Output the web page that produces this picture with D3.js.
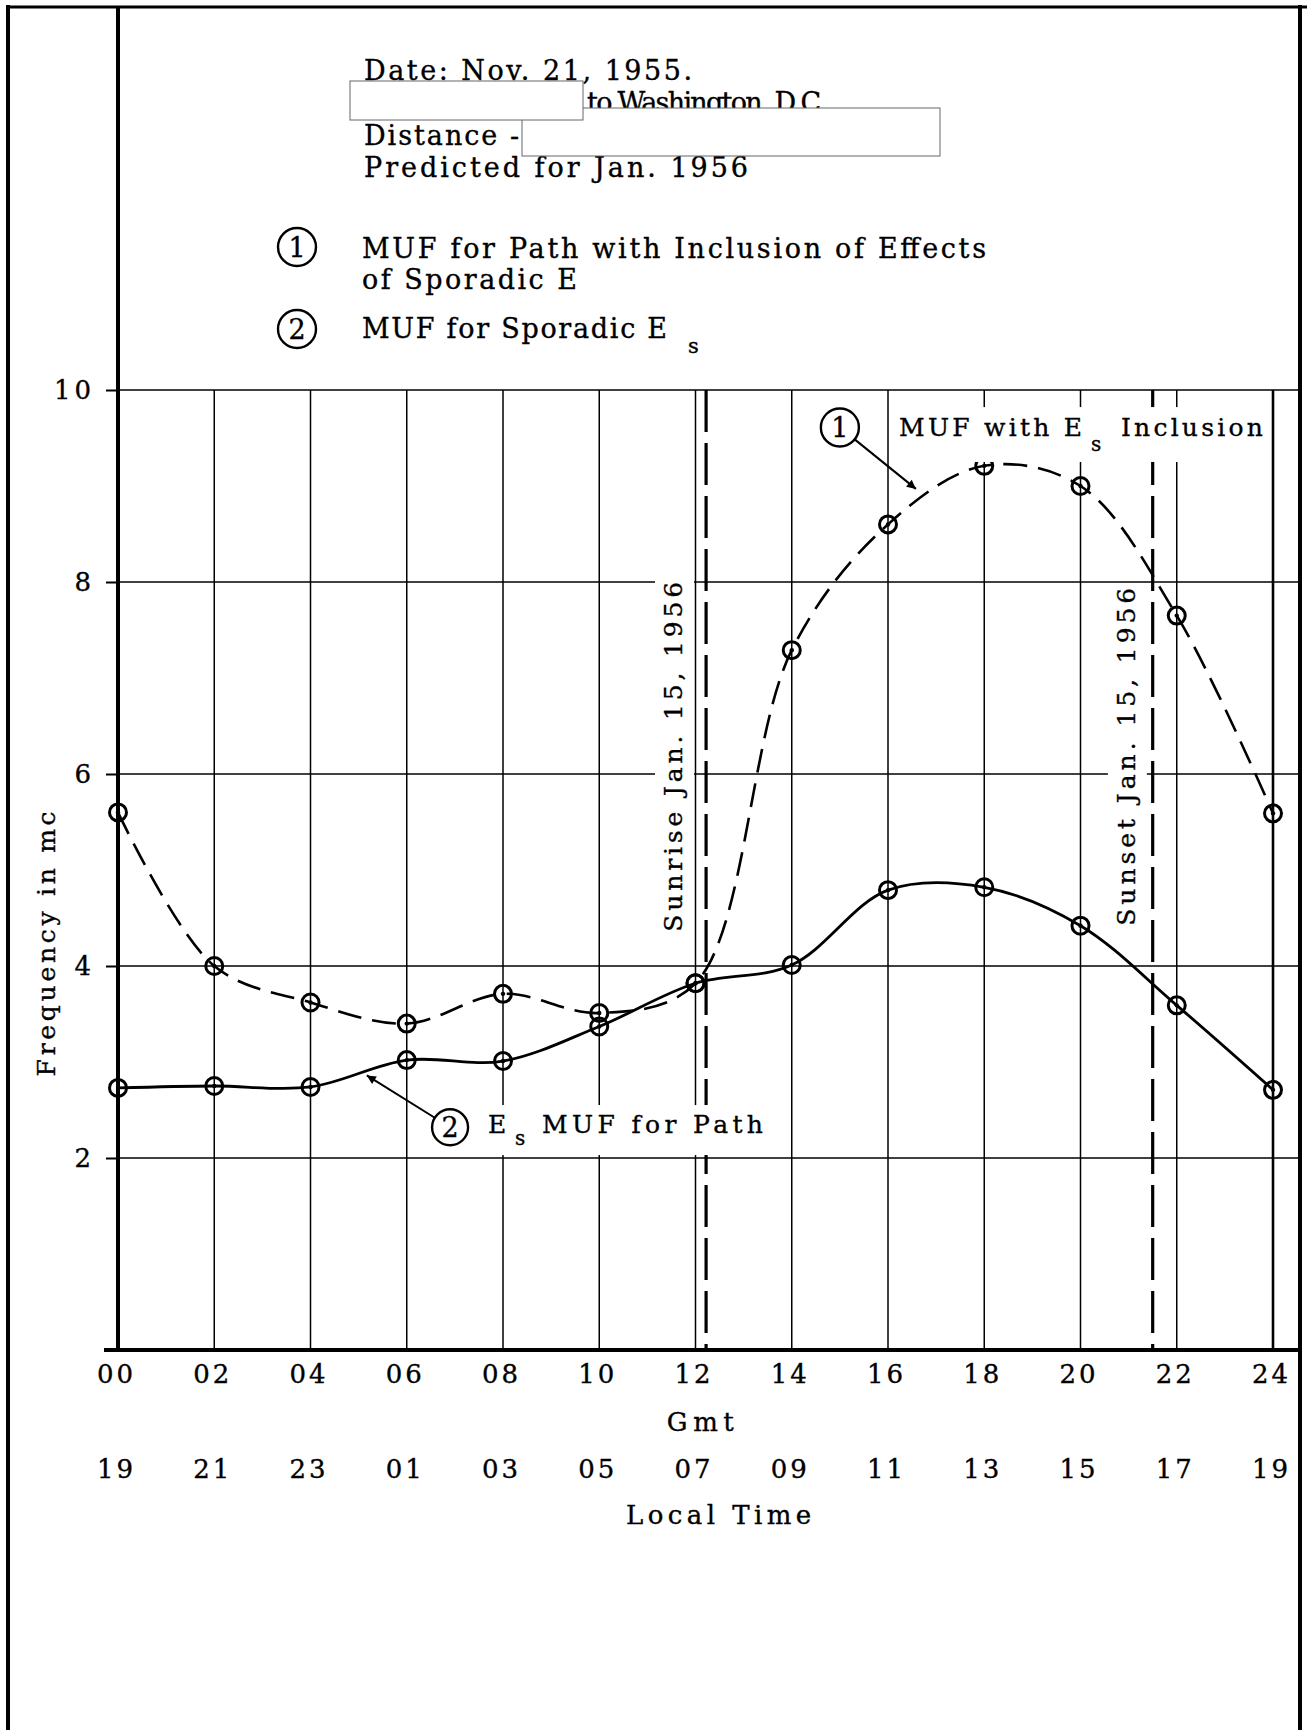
<!DOCTYPE html>
<html>
<head>
<meta charset="utf-8">
<script src="https://cdn.jsdelivr.net/npm/d3@7"></script>
<style>
  body { margin: 0; background: #fff; }
  text { font-family: "DejaVu Serif", serif; fill: #000; stroke: #000; stroke-width: 0.35px; }
</style>
</head>
<body>
<div id="chart"></div>
<script>
// Section 1: data
// Gmt hours and the two axis label rows
var gmtHours = [0, 2, 4, 6, 8, 10, 12, 14, 16, 18, 20, 22, 24];
var gmtLabels = ["00", "02", "04", "06", "08", "10", "12", "14", "16", "18", "20", "22", "24"];
var localLabels = ["19", "21", "23", "01", "03", "05", "07", "09", "11", "13", "15", "17", "19"];
// frequency ticks (mc)
var freqTicks = [2, 4, 6, 8, 10];
// curve 1: MUF with Es inclusion (dashed)
var mufInclusion = [5.6, 4.0, 3.62, 3.4, 3.71, 3.51, 3.82, 7.29, 8.6, 9.21, 9.0, 7.65, 5.59];
// curve 2: Es MUF for path (solid)
var mufSporadic = [2.73, 2.75, 2.74, 3.02, 3.01, 3.37, 3.82, 4.01, 4.79, 4.82, 4.42, 3.59, 2.71];
// sunrise / sunset, Jan. 15, 1956 (Gmt hours)
var sunriseHour = 12.22;
var sunsetHour = 21.5;

// Section 2: page setup
var svgWidth = 1307;
var svgHeight = 1730;
var plot = { left: 118, right: 1273, top: 390, bottom: 1350 };
var frameRight = 1300;

var svg = d3.select("#chart").append("svg")
  .attr("width", svgWidth)
  .attr("height", svgHeight);

var defs = svg.append("defs");
defs.append("marker")
  .attr("id", "arrow")
  .attr("viewBox", "0 0 10 10")
  .attr("refX", 10)
  .attr("refY", 5)
  .attr("markerWidth", 18)
  .attr("markerHeight", 9)
  .attr("markerUnits", "userSpaceOnUse")
  .attr("orient", "auto")
  .append("path")
  .attr("d", "M0,0 L10,5 L0,10 Z")
  .attr("fill", "#000");

var xScale = d3.scaleLinear().domain([0, 24]).range([plot.left, plot.right]);
var yScale = d3.scaleLinear().domain([0, 10]).range([plot.bottom, plot.top]);

// page frame
var frame = svg.append("g").attr("stroke", "#000").attr("fill", "none");
frame.append("line").attr("x1", 6).attr("x2", svgWidth).attr("y1", 7).attr("y2", 7).attr("stroke-width", 3);
frame.append("line").attr("x1", 8).attr("x2", 8).attr("y1", 5).attr("y2", svgHeight).attr("stroke-width", 4);
frame.append("line").attr("x1", frameRight).attr("x2", frameRight).attr("y1", 5).attr("y2", svgHeight).attr("stroke-width", 4);
// the y axis line runs up to the top of the page
frame.append("line").attr("x1", plot.left).attr("x2", plot.left).attr("y1", 6).attr("y2", plot.bottom).attr("stroke-width", 4);

// Section 3: grid
var grid = svg.append("g").attr("stroke", "#000");
grid.selectAll(".hgrid")
  .data(freqTicks)
  .enter()
  .append("line")
  .attr("x1", plot.left)
  .attr("x2", frameRight)
  .attr("y1", d => yScale(d))
  .attr("y2", d => yScale(d))
  .attr("stroke-width", 1.5);
grid.selectAll(".vgrid")
  .data(gmtHours.slice(1))
  .enter()
  .append("line")
  .attr("x1", d => xScale(d))
  .attr("x2", d => xScale(d))
  .attr("y1", yScale(10))
  .attr("y2", yScale(0))
  .attr("stroke-width", d => d === 24 ? 2.6 : 1.5);

// sunrise / sunset markers
svg.selectAll(".sun")
  .data([sunriseHour, sunsetHour])
  .enter()
  .append("line")
  .attr("x1", d => xScale(d))
  .attr("x2", d => xScale(d))
  .attr("y1", yScale(10))
  .attr("y2", yScale(0))
  .attr("stroke", "#000")
  .attr("stroke-width", 3.2)
  .attr("stroke-dasharray", "42,11");

// helper: put a white patch behind a group of text, like the original lettering
function whiteBehind(g, padX, padY) {
  var b = g.node().getBBox();
  g.insert("rect", ":first-child")
    .attr("x", b.x - padX)
    .attr("y", b.y - padY)
    .attr("width", b.width + 2 * padX)
    .attr("height", b.height + 2 * padY)
    .attr("fill", "#fff")
    .attr("stroke", "none");
}

// vertical sunrise / sunset labels
var sunLabels = [
  { text: "Sunrise Jan. 15, 1956", h: 11.72, len: 350, padLeft: 6 },
  { text: "Sunset Jan. 15, 1956", h: 21.13, len: 338, padLeft: 6 }
];
sunLabels.forEach(function(s) {
  var g = svg.append("g")
    .attr("transform", `translate(${xScale(s.h)}, ${yScale(6.18)}) rotate(-90)`);
  g.append("text")
    .attr("text-anchor", "middle")
    .attr("font-size", 25)
    .attr("textLength", s.len)
    .attr("lengthAdjust", "spacing")
    .text(s.text);
  // rotated frame: bbox y is across the line
  var b = g.node().getBBox();
  g.insert("rect", ":first-child")
    .attr("x", b.x - 4)
    .attr("y", b.y - 4)
    .attr("width", b.width + 8)
    .attr("height", b.height + 4 + s.padLeft)
    .attr("fill", "#fff");
});

// Section 4: axes
var yAxis = d3.axisLeft(yScale).tickValues(freqTicks).tickSize(12).tickPadding(11);
var yAxisG = svg.append("g")
  .attr("transform", `translate(${plot.left}, 0)`)
  .call(yAxis);
yAxisG.select(".domain").remove();
yAxisG.selectAll("line").attr("stroke-width", 2);
yAxisG.selectAll("text")
  .attr("font-family", "DejaVu Serif")
  .attr("font-size", 26)
  .attr("letter-spacing", 4);

var xAxis = d3.axisBottom(xScale).tickValues(gmtHours).tickSize(0).tickPadding(15)
  .tickFormat((d, i) => gmtLabels[i]);
var xAxisG = svg.append("g")
  .attr("transform", `translate(0, ${plot.bottom})`)
  .call(xAxis);
xAxisG.select(".domain").remove();
xAxisG.selectAll("text")
  .attr("font-family", "DejaVu Serif")
  .attr("font-size", 26)
  .attr("letter-spacing", 3)
  .attr("dx", -2);

var localAxis = d3.axisBottom(xScale).tickValues(gmtHours).tickSize(0).tickPadding(15)
  .tickFormat((d, i) => localLabels[i]);
var localAxisG = svg.append("g")
  .attr("transform", `translate(0, ${plot.bottom + 95})`)
  .call(localAxis);
localAxisG.select(".domain").remove();
localAxisG.selectAll("text")
  .attr("font-family", "DejaVu Serif")
  .attr("font-size", 26)
  .attr("letter-spacing", 3)
  .attr("dx", -2);

// heavy x axis line
svg.append("line")
  .attr("x1", plot.left - 14)
  .attr("x2", frameRight)
  .attr("y1", plot.bottom)
  .attr("y2", plot.bottom)
  .attr("stroke", "#000")
  .attr("stroke-width", 4);

// axis titles
svg.append("text")
  .attr("x", xScale(12.1))
  .attr("y", plot.bottom + 81)
  .attr("text-anchor", "middle")
  .attr("font-size", 26)
  .attr("textLength", 67)
  .attr("lengthAdjust", "spacing")
  .text("Gmt");
svg.append("text")
  .attr("x", xScale(12.48))
  .attr("y", plot.bottom + 174)
  .attr("text-anchor", "middle")
  .attr("font-size", 26)
  .attr("textLength", 185)
  .attr("lengthAdjust", "spacing")
  .text("Local Time");
svg.append("text")
  .attr("transform", `translate(55, ${yScale(4.23)}) rotate(-90)`)
  .attr("text-anchor", "middle")
  .attr("font-size", 25)
  .attr("textLength", 265)
  .attr("lengthAdjust", "spacing")
  .text("Frequency in mc");

// Section 5: curves and points
var curve = d3.line()
  .x((d, i) => xScale(gmtHours[i]))
  .y(d => yScale(d))
  .curve(d3.curveCatmullRom.alpha(0.5));

svg.append("path")
  .datum(mufInclusion)
  .attr("d", curve)
  .attr("fill", "none")
  .attr("stroke", "#000")
  .attr("stroke-width", 2.6)
  .attr("stroke-dasharray", "24,11");

svg.append("path")
  .datum(mufSporadic)
  .attr("d", curve)
  .attr("fill", "none")
  .attr("stroke", "#000")
  .attr("stroke-width", 2.8);

[mufInclusion, mufSporadic].forEach(function(series) {
  var pts = svg.append("g");
  pts.selectAll("circle")
    .data(series)
    .enter()
    .append("circle")
    .attr("cx", (d, i) => xScale(gmtHours[i]))
    .attr("cy", d => yScale(d))
    .attr("r", 8.5)
    .attr("fill", "none")
    .attr("stroke", "#000")
    .attr("stroke-width", 3);
  pts.selectAll(".dot")
    .data(series)
    .enter()
    .append("circle")
    .attr("cx", (d, i) => xScale(gmtHours[i]))
    .attr("cy", d => yScale(d))
    .attr("r", 2.2)
    .attr("fill", "#000");
});

// Section 6: in-chart call-outs
function callout(num, cx, cy, r, tipX, tipY) {
  var dx = tipX - cx, dy = tipY - cy;
  var len = Math.sqrt(dx * dx + dy * dy);
  svg.append("line")
    .attr("x1", cx + r * dx / len)
    .attr("y1", cy + r * dy / len)
    .attr("x2", tipX)
    .attr("y2", tipY)
    .attr("stroke", "#000")
    .attr("stroke-width", 2)
    .attr("marker-end", "url(#arrow)");
  svg.append("circle")
    .attr("cx", cx).attr("cy", cy).attr("r", r)
    .attr("fill", "#fff").attr("stroke", "#000").attr("stroke-width", 2.4);
  svg.append("text")
    .attr("x", cx).attr("y", cy + 10)
    .attr("text-anchor", "middle")
    .attr("font-size", 27)
    .text(num);
}

// call-out 1
var note1 = svg.append("g");
note1.append("text").attr("x", xScale(16.23)).attr("y", yScale(9.52))
  .attr("font-size", 25).attr("textLength", 183).attr("lengthAdjust", "spacing")
  .text("MUF with E");
note1.append("text").attr("x", xScale(20.22)).attr("y", yScale(9.365))
  .attr("font-size", 20).text("s");
note1.append("text").attr("x", xScale(20.84)).attr("y", yScale(9.52))
  .attr("font-size", 25).attr("textLength", 142).attr("lengthAdjust", "spacing")
  .text("Inclusion");
whiteBehind(note1, 6, 6);
callout("1", xScale(15.0), yScale(9.61), 19, xScale(16.58), yScale(8.97));

// call-out 2
var note2 = svg.append("g");
note2.append("text").attr("x", xScale(7.69)).attr("y", yScale(2.26))
  .attr("font-size", 25).text("E");
note2.append("text").attr("x", xScale(8.25)).attr("y", yScale(2.135))
  .attr("font-size", 20).text("s");
note2.append("text").attr("x", xScale(8.81)).attr("y", yScale(2.26))
  .attr("font-size", 25).attr("textLength", 221).attr("lengthAdjust", "spacing")
  .text("MUF for Path");
whiteBehind(note2, 6, 5);
callout("2", xScale(6.9), yScale(2.32), 18, xScale(5.17), yScale(2.86));

// Section 7: header block
var header = svg.append("g").attr("font-size", 27);
header.append("text").attr("x", 364).attr("y", 80)
  .attr("textLength", 328).attr("lengthAdjust", "spacing")
  .text("Date: Nov. 21, 1955.");
header.append("text").attr("x", 587).attr("y", 112)
  .attr("textLength", 240).attr("lengthAdjust", "spacing")
  .text("to Washington, D.C.");
header.append("text").attr("x", 364).attr("y", 145)
  .attr("textLength", 155).attr("lengthAdjust", "spacing")
  .text("Distance -");
header.append("text").attr("x", 364).attr("y", 177)
  .attr("textLength", 384).attr("lengthAdjust", "spacing")
  .text("Predicted for Jan. 1956");

// blanked-out boxes
header.append("rect").attr("x", 522).attr("y", 108).attr("width", 418).attr("height", 48)
  .attr("fill", "#fff").attr("stroke", "#666").attr("stroke-width", 1);
header.append("rect").attr("x", 350).attr("y", 81).attr("width", 233).attr("height", 39)
  .attr("fill", "#fff").attr("stroke", "#666").attr("stroke-width", 1);

// legend
var legend = [
  { num: "1", lines: ["MUF for Path with Inclusion of Effects", "of Sporadic E"], lens: [624, 215], y: 258, cy: 247 },
  { num: "2", lines: ["MUF for Sporadic E"], lens: [305], y: 338, cy: 329 }
];
legend.forEach(function(l) {
  header.append("circle").attr("cx", 297).attr("cy", l.cy).attr("r", 19)
    .attr("fill", "#fff").attr("stroke", "#000").attr("stroke-width", 2.4);
  header.append("text").attr("x", 297).attr("y", l.cy + 10)
    .attr("text-anchor", "middle").attr("font-size", 27).text(l.num);
  l.lines.forEach(function(t, i) {
    header.append("text").attr("x", 362).attr("y", l.y + i * 31)
      .attr("textLength", l.lens[i]).attr("lengthAdjust", "spacing")
      .text(t);
  });
});
header.append("text").attr("x", 688).attr("y", 353).attr("font-size", 21).text("s");
</script>
</body>
</html>
